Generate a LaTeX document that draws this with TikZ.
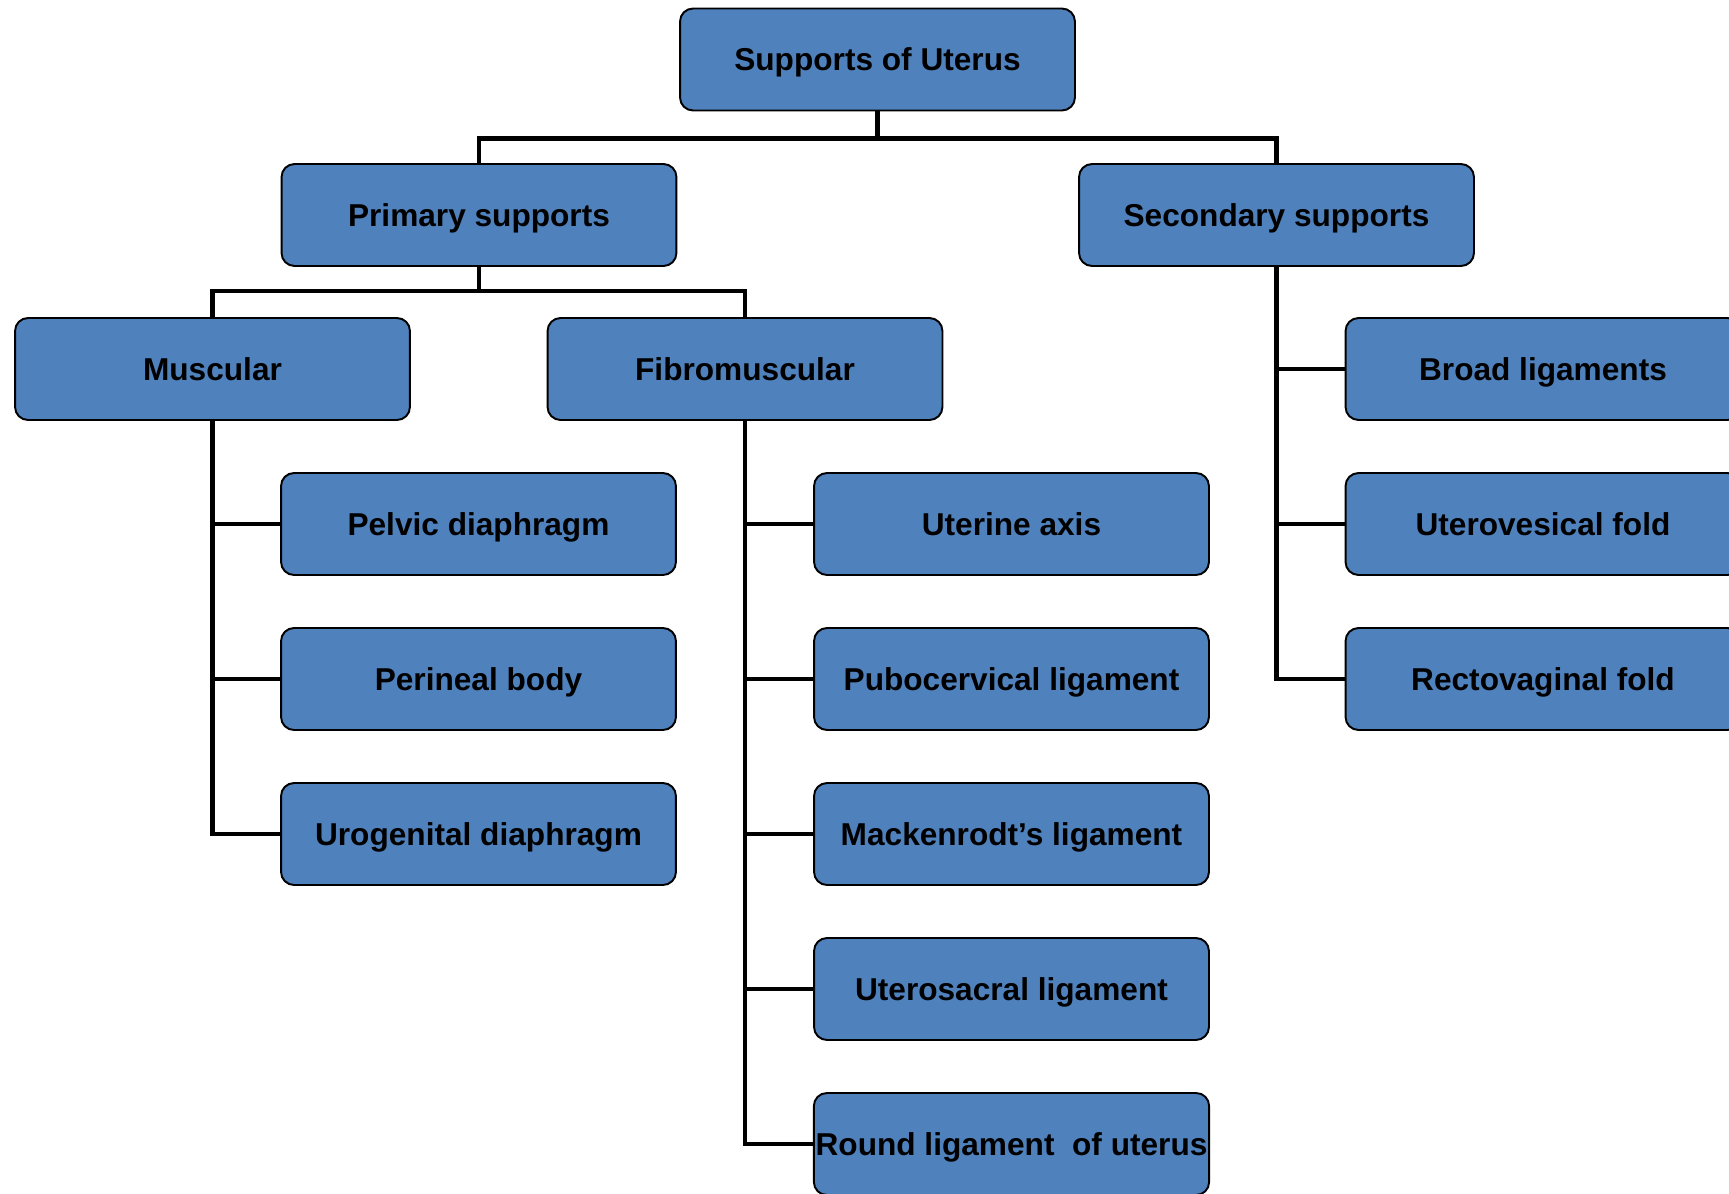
\documentclass[tikz,border=0pt]{standalone}
\usepackage{fontspec}
\setmainfont{Liberation Sans}
\usepackage{xcolor}
\usepackage{tikz}
\definecolor{boxblue}{HTML}{4F81BD}

\begin{document}
\begin{tikzpicture}[x=0.02cm, y=-0.02cm,
  box/.style={draw, line width=1.1pt, fill=boxblue, rounded corners=0.26cm,
    minimum width=7.9cm, minimum height=2.04cm, inner xsep=1pt,
    text height=13.5pt, text depth=0.5pt,
    font=\fontsize{18}{21}\selectfont\bfseries},
  link/.style={line width=2.6pt}]
\useasboundingbox (0,0) rectangle (1729,1194);
\clip (0,0) rectangle (1729,1194);
\node[box] (top) at (877.5,59.5) {Supports of Uterus};
\node[box] (primary) at (479,215) {Primary supports};
\node[box] (secondary) at (1276.5,215) {Secondary supports};
\node[box] (muscular) at (212.5,369) {Muscular};
\node[box] (fibro) at (745,369) {Fibromuscular};
\node[box] (broad) at (1543,369) {Broad ligaments};
\node[box] (pelvic) at (478.5,524) {Pelvic diaphragm};
\node[box] (perineal) at (478.5,679) {Perineal body};
\node[box] (urogen) at (478.5,834) {Urogenital diaphragm};
\node[box] (axis) at (1011.5,524) {Uterine axis};
\node[box] (pubo) at (1011.5,679) {Pubocervical ligament};
\node[box] (macken) at (1011.5,834) {Mackenrodt’s ligament};
\node[box] (sacral) at (1011.5,989) {Uterosacral ligament};
\node[box] (round) at (1011.5,1144) {Round ligament\ \ of uterus};
\node[box] (vesical) at (1543,524) {Uterovesical fold};
\node[box] (recto) at (1543,679) {Rectovaginal fold};
\draw[link] (top.south) -- ++(0,27) -| (primary.north);
\draw[link] (top.south) -- ++(0,27) -| (secondary.north);
\draw[link] (primary.south) -- ++(0,24) -| (muscular.north);
\draw[link] (primary.south) -- ++(0,24) -| (fibro.north);
\draw[link] (muscular.south) |- (pelvic.west);
\draw[link] (muscular.south) |- (perineal.west);
\draw[link] (muscular.south) |- (urogen.west);
\draw[link] (fibro.south) |- (axis.west);
\draw[link] (fibro.south) |- (pubo.west);
\draw[link] (fibro.south) |- (macken.west);
\draw[link] (fibro.south) |- (sacral.west);
\draw[link] (fibro.south) |- (round.west);
\draw[link] (secondary.south) |- (broad.west);
\draw[link] (secondary.south) |- (vesical.west);
\draw[link] (secondary.south) |- (recto.west);
\end{tikzpicture}
\end{document}
